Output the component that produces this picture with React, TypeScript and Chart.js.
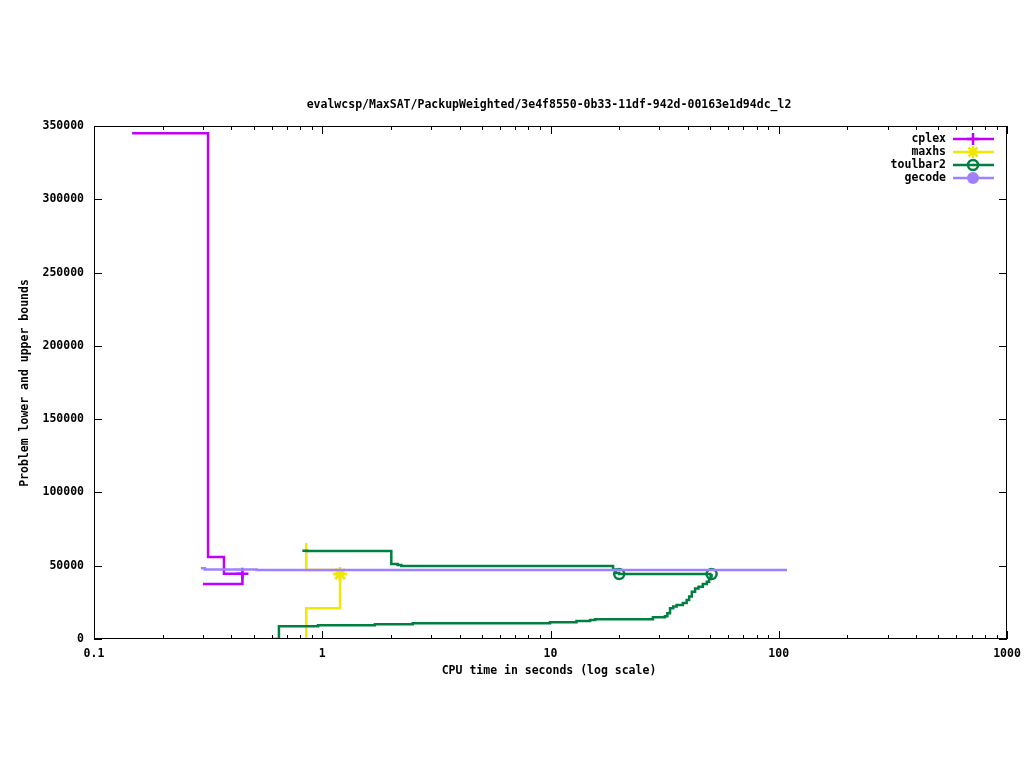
import React, { useEffect, useRef } from "react";
import { Chart, registerables } from "chart.js";

Chart.register(...registerables);

const TITLE = "evalwcsp/MaxSAT/PackupWeighted/3e4f8550-0b33-11df-942d-00163e1d94dc_l2";
const X_LABEL = "CPU time in seconds (log scale)";
const Y_LABEL = "Problem lower and upper bounds";
const X_TICKS = [0.1, 1, 10, 100, 1000];
const X_TICK_LABELS = ["0.1", "1", "10", "100", "1000"];
const Y_TICKS = [0, 50000, 100000, 150000, 200000, 250000, 300000, 350000];

const SERIES = ["cplex", "maxhs", "toulbar2", "gecode"];
const COLORS = ["#c000ff", "#f0e800", "#008040", "#a080ff"];
const MARKERS = ["cross", "star", "ring", "dot"];

// cplex
const cplexUpperT = [0.147, 0.316, 0.371, 0.447];
const cplexUpperV = [345000, 56000, 44500, 44500];
const cplexLowerT = [0.3, 0.447, 0.447];
const cplexLowerV = [37500, 37500, 44500];

// maxhs
const maxhsUpperT = [0.851, 0.851, 1.197, 1.197];
const maxhsUpperV = [65500, 47000, 47000, 44300];
const maxhsLowerT = [0.851, 0.851, 1.197, 1.197];
const maxhsLowerV = [0, 21000, 21000, 44300];

// toulbar2
const tbUpperT = [0.818, 0.86, 2.007, 2.14, 2.22, 18.8, 19.3, 20.0, 50.8];
const tbUpperV = [60200, 60000, 51200, 50500, 49800, 47500, 45000, 44300, 44300];
const tbLowerT = [0.6, 0.646, 0.958, 1.7, 2.49, 9.95, 13.0, 14.9, 15.7, 28.1, 31.7, 32.5, 33.4, 34.5, 35.7, 38.0, 39.5, 40.5, 41.6, 43.0, 44.5, 46.5, 48.4, 49.5, 50.3, 50.8];
const tbLowerV = [0, 8700, 9300, 10000, 10700, 11400, 12300, 13000, 13400, 14800, 15500, 17500, 20900, 22200, 23200, 24500, 26600, 29000, 32300, 34500, 35700, 37500, 39100, 41000, 43000, 44300];

// gecode
const gecodeUpperT = [0.294, 0.306, 0.516, 108.7];
const gecodeUpperV = [48200, 47400, 47000, 47000];

const FONT = "'DejaVu Sans Mono', monospace";

function pts(t: number[], v: number[]) {
  return t.map((x, i) => ({ x, y: v[i] }));
}

function radii(n: number, marked: number[], r: number) {
  return Array.from({ length: n }, (_, i) => (marked.includes(i) ? r : 0));
}

function drawMarker(ctx: CanvasRenderingContext2D, kind: string, x: number, y: number, color: string) {
  ctx.save();
  ctx.strokeStyle = color;
  ctx.fillStyle = color;
  ctx.lineWidth = 2.5;
  ctx.beginPath();
  if (kind === "cross") {
    ctx.moveTo(x - 6, y); ctx.lineTo(x + 6, y);
    ctx.moveTo(x, y - 6); ctx.lineTo(x, y + 6);
    ctx.stroke();
  } else if (kind === "star") {
    ctx.moveTo(x - 6, y); ctx.lineTo(x + 6, y);
    ctx.moveTo(x, y - 6); ctx.lineTo(x, y + 6);
    ctx.moveTo(x - 4.5, y - 4.5); ctx.lineTo(x + 4.5, y + 4.5);
    ctx.moveTo(x - 4.5, y + 4.5); ctx.lineTo(x + 4.5, y - 4.5);
    ctx.stroke();
  } else if (kind === "ring") {
    ctx.arc(x, y, 5, 0, Math.PI * 2);
    ctx.stroke();
  } else {
    ctx.arc(x, y, 6, 0, Math.PI * 2);
    ctx.fill();
  }
  ctx.restore();
}

const decorPlugin = {
  id: "decor",
  afterDraw(chart: any) {
    const ctx: CanvasRenderingContext2D = chart.ctx;
    const { left, right, top, bottom } = chart.chartArea;
    const xs = chart.scales.x;
    const ys = chart.scales.y;
    ctx.save();
    ctx.strokeStyle = "#000";
    ctx.lineWidth = 1;
    ctx.strokeRect(left + 0.5, top + 0.5, right - left - 1, bottom - top - 1);
    ctx.beginPath();
    for (let e = -1; e <= 3; e++) {
      for (let k = 1; k <= 9; k++) {
        const v = k * Math.pow(10, e);
        if (v > 1000 + 1e-9) continue;
        const px = Math.round(xs.getPixelForValue(v)) + 0.5;
        const len = k === 1 ? 8 : 4;
        ctx.moveTo(px, bottom); ctx.lineTo(px, bottom - len);
        ctx.moveTo(px, top); ctx.lineTo(px, top + len);
      }
    }
    for (const v of Y_TICKS) {
      const py = Math.round(ys.getPixelForValue(v)) + 0.5;
      ctx.moveTo(left, py); ctx.lineTo(left + 8, py);
      ctx.moveTo(right, py); ctx.lineTo(right - 8, py);
    }
    ctx.stroke();

    ctx.fillStyle = "#000";
    ctx.font = `bold 11.5px ${FONT}`;
    ctx.textAlign = "center";
    ctx.textBaseline = "middle";
    ctx.fillText(TITLE, 549, 105);
    ctx.fillText(X_LABEL, 549, 671);
    ctx.save();
    ctx.translate(25, 383);
    ctx.rotate(-Math.PI / 2);
    ctx.fillText(Y_LABEL, 0, 0);
    ctx.restore();

    ctx.textAlign = "right";
    SERIES.forEach((name, i) => {
      const y = 139 + i * 13;
      ctx.fillStyle = "#000";
      ctx.fillText(name, 946, y);
      ctx.save();
      ctx.strokeStyle = COLORS[i];
      ctx.lineWidth = 2.5;
      ctx.beginPath();
      ctx.moveTo(953, y);
      ctx.lineTo(994, y);
      ctx.stroke();
      ctx.restore();
      drawMarker(ctx, MARKERS[i], 973, y, COLORS[i]);
    });
    ctx.restore();
  },
};

export default function App() {
  const ref = useRef<HTMLCanvasElement | null>(null);
  useEffect(() => {
    if (!ref.current) return;
    const lineBase = { stepped: "before" as const, borderWidth: 2.5, fill: false, pointBorderWidth: 2.5, pointHoverRadius: 0 };
    const chart = new Chart(ref.current, {
      type: "line",
      data: {
        datasets: [
          { ...lineBase, label: "gecode", data: pts(gecodeUpperT, gecodeUpperV), borderColor: COLORS[3], pointRadius: 0 },
          { ...lineBase, label: "toulbar2", data: pts(tbUpperT, tbUpperV), borderColor: COLORS[2], pointStyle: "circle", pointBackgroundColor: "rgba(0,0,0,0)", pointBorderColor: COLORS[2], pointRadius: radii(tbUpperT.length, [7], 5) },
          { ...lineBase, label: "toulbar2 lb", data: pts(tbLowerT, tbLowerV), borderColor: COLORS[2], pointStyle: "circle", pointBackgroundColor: "rgba(0,0,0,0)", pointBorderColor: COLORS[2], pointRadius: radii(tbLowerT.length, [tbLowerT.length - 1], 5) },
          { ...lineBase, label: "maxhs", data: pts(maxhsUpperT, maxhsUpperV), borderColor: COLORS[1], pointRadius: 0 },
          { ...lineBase, label: "maxhs lb", data: pts(maxhsLowerT, maxhsLowerV), borderColor: COLORS[1], pointStyle: "star", pointBorderColor: COLORS[1], pointBorderWidth: 3, pointRadius: radii(maxhsLowerT.length, [maxhsLowerT.length - 1], 7) },
          { ...lineBase, label: "cplex", data: pts(cplexUpperT, cplexUpperV), borderColor: COLORS[0], pointStyle: "cross", pointBorderColor: COLORS[0], pointRadius: radii(cplexUpperT.length, [cplexUpperT.length - 1], 6) },
          { ...lineBase, label: "cplex lb", data: pts(cplexLowerT, cplexLowerV), borderColor: COLORS[0], pointRadius: 0 },
        ],
      },
      options: {
        responsive: false,
        animation: false,
        parsing: false as any,
        normalized: true,
        layout: { padding: { left: 0, right: 17, top: 126, bottom: 0 } },
        plugins: { legend: { display: false }, title: { display: false }, tooltip: { enabled: false } },
        events: [],
        scales: {
          x: {
            type: "logarithmic",
            min: 0.1,
            max: 1000,
            grid: { display: false, drawTicks: false },
            border: { display: false },
            afterBuildTicks: (s: any) => { s.ticks = X_TICKS.map((v) => ({ value: v })); },
            afterFit: (s: any) => { s.height = 129; s.paddingLeft = 0; s.paddingRight = 0; },
            ticks: {
              autoSkip: false,
              maxRotation: 0,
              padding: 8,
              color: "#000",
              font: { family: FONT, size: 11.5, weight: "bold" },
              callback: (v: any) => { const i = X_TICKS.findIndex((t) => Math.abs(t - v) < 1e-9); return i >= 0 ? X_TICK_LABELS[i] : ""; },
            },
          },
          y: {
            type: "linear",
            min: 0,
            max: 350000,
            grid: { display: false, drawTicks: false },
            border: { display: false },
            afterBuildTicks: (s: any) => { s.ticks = Y_TICKS.map((v) => ({ value: v })); },
            afterFit: (s: any) => { s.width = 94; s.paddingTop = 0; s.paddingBottom = 0; },
            ticks: {
              autoSkip: false,
              padding: 10,
              color: "#000",
              font: { family: FONT, size: 11.5, weight: "bold" },
              callback: (v: any) => String(v),
            },
          },
        },
      } as any,
      plugins: [decorPlugin],
    });
    return () => chart.destroy();
  }, []);
  return (
    <div style={{ position: "fixed", left: 0, top: 0, width: 1024, height: 768, background: "#fff" }}>
      <canvas ref={ref} width={1024} height={768} />
    </div>
  );
}
